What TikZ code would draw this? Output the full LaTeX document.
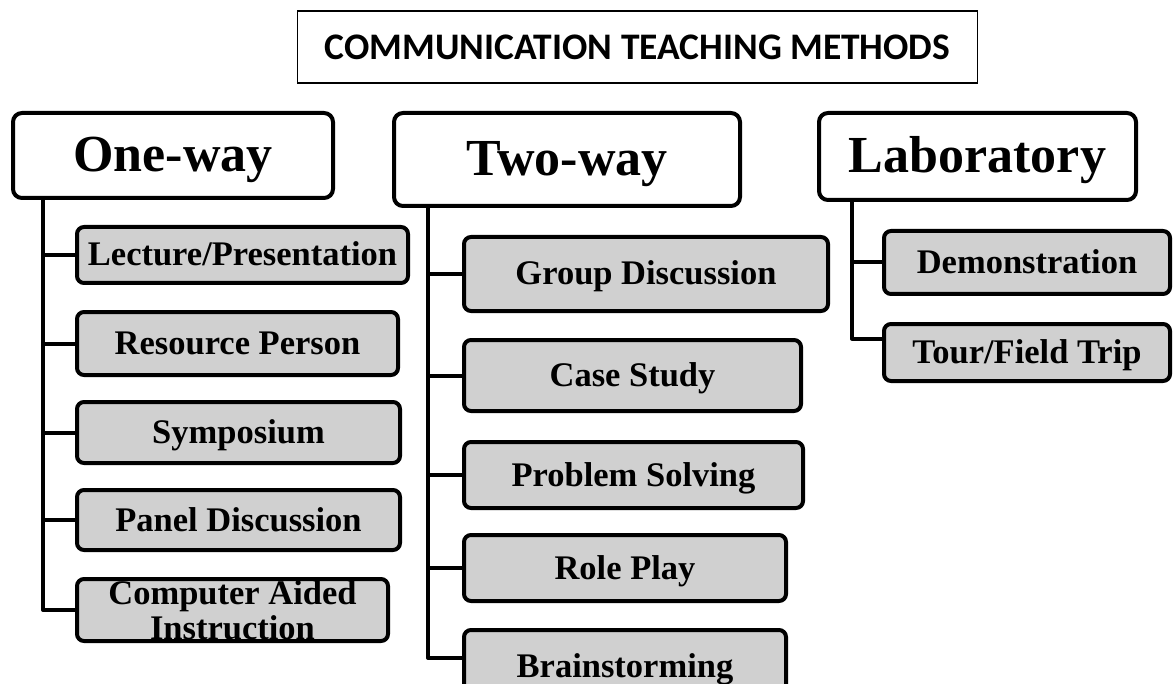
\documentclass[tikz,border=0pt]{standalone}
\usepackage{fontspec}
\newfontfamily\methserif{Liberation Serif}
\newfontfamily\methsans{Carlito}
\definecolor{itemgray}{RGB}{208,208,208}

\begin{document}
\begin{tikzpicture}[x=1pt,y=-1pt,
  titlebox/.style={draw,line width=1.3pt,inner sep=0pt,
    font=\methsans\bfseries\fontsize{37.5}{40}\selectfont},
  catbox/.style={draw,fill=white,line width=4pt,rounded corners=9pt,inner sep=0pt,
    text height=33pt,text depth=0pt,
    font=\methserif\bfseries\fontsize{52}{56}\selectfont},
  itembox/.style={draw,fill=itemgray,line width=4pt,rounded corners=7pt,inner sep=0pt,
    text height=22pt,text depth=0pt,
    font=\methserif\bfseries\fontsize{34.5}{35}\selectfont},
  trunk/.style={line width=4pt,line join=round}]
\useasboundingbox (0,0) rectangle (1174,684);

% heading
\node[titlebox,minimum width=680,minimum height=72] (title) at (637.5,47) {COMMUNICATION TEACHING METHODS};

% the three groups
\node[catbox,minimum width=320,minimum height=85] (one) at (173,155.5) {One-way};
\node[catbox,minimum width=346,minimum height=93] (two) at (567,159.5) {Two-way};
\node[catbox,minimum width=317,minimum height=87] (lab) at (977.5,156.5) {Laboratory};

% one-way methods
\node[itembox,minimum width=331,minimum height=56] (lec) at (242.5,255) {Lecture/Presentation};
\node[itembox,minimum width=321,minimum height=63] (res) at (237.5,343.5) {Resource Person};
\node[itembox,minimum width=323,minimum height=61] (sym) at (238.5,432.5) {Symposium};
\node[itembox,minimum width=323,minimum height=60] (pan) at (238.5,520) {Panel Discussion};
\node[itembox,minimum width=311,minimum height=62,align=center,inner ysep=-5pt,
  text height=,text depth=] (cai) at (232.5,610) {Computer Aided\\Instruction};

% two-way methods
\node[itembox,minimum width=364,minimum height=74] (grp) at (646,274) {Group Discussion};
\node[itembox,minimum width=337,minimum height=71] (cas) at (632.5,375.5) {Case Study};
\node[itembox,minimum width=339,minimum height=66] (pro) at (633.5,475) {Problem Solving};
\node[itembox,minimum width=322,minimum height=66] (rol) at (625,568) {Role Play};
\node[itembox,minimum width=322,minimum height=72] (bra) at (625,666) {Brainstorming};

% laboratory methods
\node[itembox,minimum width=286,minimum height=63] (dem) at (1027,262.5) {Demonstration};
\node[itembox,minimum width=286,minimum height=57] (tou) at (1027,352.5) {Tour/Field Trip};

% tree lines
\coordinate (oneroot) at ([xshift=32pt]one.south west);
\coordinate (tworoot) at ([xshift=36pt]two.south west);
\coordinate (labroot) at ([xshift=35pt]lab.south west);
\foreach \n in {lec,res,sym,pan,cai}
  \draw[trunk] (oneroot) |- (\n.west);
\foreach \n in {grp,cas,pro,rol}
  \draw[trunk] (tworoot) |- (\n.west);
\draw[trunk] (tworoot) |- ([yshift=8pt]bra.west);
\draw[trunk] (labroot) |- (dem.west);
\draw[trunk] (labroot) |- ([yshift=14pt]tou.west);
\end{tikzpicture}
\end{document}
